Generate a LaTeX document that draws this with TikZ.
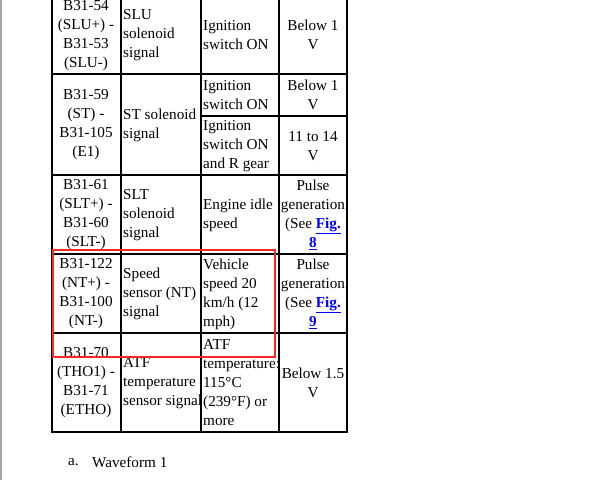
\documentclass[tikz,border=0pt]{standalone}
\usepackage{fontspec}
\setmainfont{Liberation Serif}
\begin{document}
\begin{tikzpicture}[x=1pt,y=-1pt,
  txt/.style={inner sep=0pt,font=\fontsize{15.2}{19}\selectfont},
  cl/.style={txt,align=center},
  ll/.style={txt,align=left,anchor=west},
  grid/.style={line width=1.2pt},
  outer/.style={line width=2.2pt}]
\useasboundingbox (0,0) rectangle (603,480);
\newcommand\lnk[1]{\textcolor{blue}{\underline{\textbf{#1}}}}
\draw[gray!70,line width=1.5pt] (1,0) -- (1,480);
% grid
\draw[grid] (52,74) -- (347,74) (52,175) -- (347,175) (52,254) -- (347,254) (52,333) -- (347,333) (201,116) -- (347,116);
\draw[grid] (121,0) -- (121,432) (201,0) -- (201,432) (279,0) -- (279,432);
\draw[outer] (52,-2) -- (52,432) -- (347,432) -- (347,-2);
% row 1
\node[cl] (a1) at (86,36) {B31-54\\(SLU+) -\\B31-53\\(SLU-)};
\node[ll] (b1) at (123,35) {SLU\\solenoid\\signal};
\node[ll] (c1) at (203,35) {Ignition\\switch ON};
\node[cl] (d1) at (313,35) {Below 1\\V};
% row 2
\node[cl] (a2) at (86,125) {B31-59\\(ST) -\\B31-105\\(E1)};
\node[ll] (b2) at (123,125) {ST solenoid\\signal};
\node[ll] (c2) at (203,95) {Ignition\\switch ON};
\node[cl] (d2) at (313,95) {Below 1\\V};
\node[ll] (c2b) at (203,146) {Ignition\\switch ON\\and R gear};
\node[cl] (d2b) at (313,146) {11 to 14\\V};
% row 3
\node[cl] (a3) at (86,215) {B31-61\\(SLT+) -\\B31-60\\(SLT-)};
\node[ll] (b3) at (123,215) {SLT\\solenoid\\signal};
\node[ll] (c3) at (203,215) {Engine idle\\speed};
\node[cl] (d3) at (313,215) {Pulse\\generation\\(See \lnk{Fig.}\\\lnk{8}};
% row 4
\node[cl] (a4) at (86,294) {B31-122\\(NT+) -\\B31-100\\(NT-)};
\node[ll] (b4) at (123,294) {Speed\\sensor (NT)\\signal};
\node[ll] (c4) at (203,294) {Vehicle\\speed 20\\km/h (12\\mph)};
\node[cl] (d4) at (313,294) {Pulse\\generation\\(See \lnk{Fig.}\\\lnk{9}};
% row 5
\node[cl] (a5) at (86,383) {B31-70\\(THO1) -\\B31-71\\(ETHO)};
\node[ll] (b5) at (123,383) {ATF\\temperature\\sensor signal};
\node[ll] (c5) at (203,383) {ATF\\temperature:\\115°C\\(239°F) or\\more};
\node[cl] (d5) at (313,383) {Below 1.5\\V};
% red box
\draw[red!85!white,line width=2.2pt] (53,250) rectangle (275,357);
% caption
\node[ll] (cap1) at (68,462) {a.};
\node[ll] (cap2) at (92,462) {Waveform 1};
\end{tikzpicture}
\end{document}
